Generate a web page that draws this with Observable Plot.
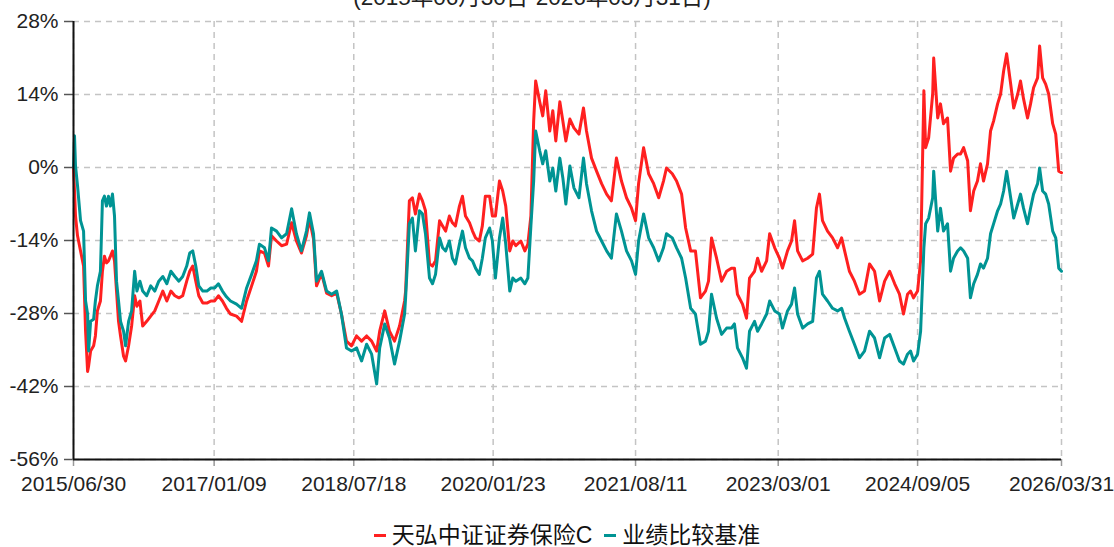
<!DOCTYPE html>
<html>
<head>
<meta charset="utf-8">
<script src="https://cdn.jsdelivr.net/npm/d3@7"></script>
<script src="https://cdn.jsdelivr.net/npm/@observablehq/plot@0.6"></script>
<style>
  html, body { margin: 0; padding: 0; background: #fff; }
  #wrap { position: relative; width: 1114px; height: 547px; overflow: hidden; font-family: "Liberation Sans", Arial, sans-serif; }
  #subtitle { position: absolute; z-index: 2; left: 0; width: 1064px; top: -13px; text-align: center; font-size: 22.5px; line-height: 22px; color: #222; white-space: nowrap; font-family: "Liberation Sans", "Noto Sans CJK SC", sans-serif; }
  #chart { position: absolute; z-index: 1; left: 0; top: 0; }
  #legend { position: absolute; z-index: 2; left: 0; width: 1134px; top: 522px; text-align: center; font-size: 23px; line-height: 26px; color: #111; white-space: nowrap; font-family: "Liberation Sans", "Noto Sans CJK SC", sans-serif; }
  .item { display: inline-block; margin: 0 6px; }
  .sw { display: inline-block; width: 12px; height: 3px; vertical-align: middle; margin-right: 6px; position: relative; top: -1px; }
</style>
</head>
<body>
<div id="wrap">
  <div id="chart"></div>
  <div id="subtitle"></div>
  <div id="legend"></div>
</div>
<script>
const subtitle = "(2015年06月30日-2026年03月31日)";
const seriesNames = ["天弘中证证券保险C", "业绩比较基准"];
const seriesColors = ["#ff2020", "#009494"];

const dates = [
"2015-06-30","2015-07-04","2015-07-08","2015-07-16","2015-07-28","2015-08-09","2015-08-17","2015-08-25","2015-08-29","2015-09-06",
"2015-09-18","2015-09-25","2015-10-03","2015-10-15","2015-10-23","2015-10-31","2015-11-08","2015-11-16","2015-11-24","2015-12-02",
"2015-12-10","2015-12-18","2015-12-26","2016-01-03","2016-01-15","2016-01-23","2016-02-04","2016-02-16","2016-02-28","2016-03-08",
"2016-03-20","2016-03-31","2016-04-16","2016-05-02","2016-05-18","2016-06-03","2016-06-19","2016-07-05","2016-07-21","2016-08-06",
"2016-08-22","2016-09-06","2016-09-22","2016-10-04","2016-10-16","2016-10-28","2016-11-09","2016-11-25","2016-12-11","2016-12-27",
"2017-01-11","2017-01-26","2017-02-11","2017-02-27","2017-03-15","2017-04-08","2017-04-28","2017-05-18","2017-06-07","2017-06-26",
"2017-07-08","2017-07-28","2017-08-13","2017-08-25","2017-09-14","2017-10-04","2017-10-24","2017-11-13","2017-12-02","2017-12-22",
"2018-01-11","2018-01-23","2018-02-08","2018-02-20","2018-03-12","2018-04-01","2018-04-21","2018-05-11","2018-05-30","2018-06-19",
"2018-07-09","2018-07-29","2018-08-18","2018-09-07","2018-09-27","2018-10-17","2018-10-29","2018-11-18","2018-12-07","2018-12-27",
"2019-01-16","2019-02-05","2019-02-09","2019-02-24","2019-03-08","2019-03-20","2019-04-05","2019-04-17","2019-04-29","2019-05-15",
"2019-05-27","2019-06-08","2019-06-24","2019-07-06","2019-07-18","2019-08-02","2019-08-14","2019-08-26","2019-09-11","2019-09-23",
"2019-10-05","2019-10-21","2019-11-02","2019-11-14","2019-11-29","2019-12-11","2019-12-23","2020-01-09","2020-01-20","2020-02-01",
"2020-02-17","2020-03-01","2020-03-13","2020-03-29","2020-04-10","2020-04-22","2020-05-12","2020-05-28","2020-06-09","2020-06-21",
"2020-07-02","2020-07-10","2020-07-26","2020-08-07","2020-08-19","2020-09-04","2020-09-16","2020-09-28","2020-10-14","2020-10-26",
"2020-11-07","2020-11-23","2020-12-09","2020-12-29","2021-01-16","2021-01-28","2021-02-17","2021-03-09","2021-03-29","2021-04-18",
"2021-05-07","2021-05-27","2021-06-16","2021-07-06","2021-07-26","2021-08-11","2021-08-23","2021-09-12","2021-10-02","2021-10-22",
"2021-11-11","2021-11-30","2021-12-12","2022-01-04","2022-01-21","2022-02-10","2022-02-26","2022-03-18","2022-04-06","2022-04-26",
"2022-05-16","2022-05-28","2022-06-09","2022-06-29","2022-07-19","2022-08-08","2022-08-27","2022-09-08","2022-09-20","2022-10-10",
"2022-10-26","2022-11-07","2022-11-27","2022-12-09","2022-12-25","2023-01-14","2023-01-26","2023-02-15","2023-03-06","2023-03-18",
"2023-04-07","2023-04-23","2023-05-05","2023-05-17","2023-06-06","2023-06-26","2023-07-16","2023-07-31","2023-08-12","2023-08-24",
"2023-09-13","2023-10-03","2023-10-23","2023-11-08","2023-11-20","2023-12-09","2023-12-29","2024-01-18","2024-02-07","2024-02-27",
"2024-03-18","2024-04-07","2024-04-27","2024-05-17","2024-06-06","2024-06-25","2024-07-11","2024-07-27","2024-08-08","2024-08-20",
"2024-09-05","2024-09-17","2024-09-30","2024-10-07","2024-10-19","2024-11-04","2024-11-08","2024-11-24","2024-12-05","2024-12-17",
"2025-01-02","2025-01-14","2025-01-26","2025-02-11","2025-02-23","2025-03-07","2025-03-23","2025-04-03","2025-04-16","2025-05-01",
"2025-05-13","2025-05-25","2025-06-10","2025-06-22","2025-07-04","2025-07-20","2025-08-01","2025-08-13","2025-08-25","2025-09-10",
"2025-09-22","2025-10-08","2025-10-19","2025-10-31","2025-11-16","2025-11-28","2025-12-10","2025-12-26","2026-01-03","2026-01-15",
"2026-01-27","2026-02-08","2026-02-24","2026-03-08","2026-03-20","2026-03-31"
];

// 天弘中证证券保险C (%)
const fund = [
0,-4.5,-9.3,-13.1,-16.0,-18.9,-31.4,-39.1,-38.1,-35.2,
-34.2,-32.3,-27.5,-25.6,-19.9,-17.0,-18.3,-17.9,-17.0,-16.0,
-17.9,-23.7,-29.5,-32.3,-36.2,-37.1,-34.2,-30.4,-24.6,-26.6,
-25.6,-30.4,-29.5,-28.5,-27.5,-25.6,-23.7,-25.6,-23.7,-24.6,
-25.0,-24.6,-21.8,-19.9,-18.9,-21.8,-24.6,-26.0,-26.0,-25.6,
-25.6,-24.6,-25.6,-27.0,-28.1,-28.5,-29.5,-25.6,-22.7,-19.9,
-16.0,-16.4,-18.9,-13.1,-14.1,-15.0,-14.7,-10.6,-14.1,-16.4,
-13.1,-9.9,-13.7,-22.7,-20.3,-24.1,-24.6,-24.1,-28.1,-33.3,
-34.2,-32.3,-33.3,-32.3,-33.3,-35.2,-31.4,-27.5,-31.4,-33.3,
-30.4,-25.6,-23.7,-6.4,-5.8,-8.9,-5.1,-6.4,-8.3,-18.5,
-18.9,-17.9,-10.2,-11.2,-12.2,-9.3,-10.6,-11.2,-7.4,-5.5,
-9.3,-10.6,-12.2,-13.5,-14.1,-11.2,-5.5,-5.5,-9.3,-9.3,
-2.6,-4.5,-7.4,-16.0,-14.1,-15.0,-14.1,-16.0,-14.7,-9.3,
8.9,16.6,12.6,9.9,14.7,7.0,10.9,5.1,12.6,8.9,
5.1,9.3,7.6,6.4,11.4,7.0,1.8,-0.7,-3.1,-5.1,
-6.4,1.8,-2.6,-5.8,-7.8,-10.2,-3.1,3.8,-1.2,-3.1,
-5.8,-2.6,-0.1,-1.2,-2.6,-5.1,-11.6,-16.0,-16.0,-25.0,
-23.7,-21.8,-13.5,-17.4,-21.8,-19.9,-19.3,-19.3,-24.3,-26.2,
-28.9,-21.2,-19.9,-17.4,-19.9,-17.9,-12.7,-15.4,-17.4,-19.3,
-16.0,-14.1,-10.2,-16.0,-17.9,-17.4,-16.6,-7.8,-5.1,-10.2,
-12.2,-13.5,-15.4,-13.5,-16.0,-19.9,-21.8,-24.3,-23.7,-18.5,
-19.9,-25.6,-21.8,-19.9,-22.3,-24.3,-28.1,-24.3,-23.7,-25.0,
-23.7,-17.9,14.7,3.8,5.7,14.1,21.0,9.5,12.2,8.4,
9.5,-0.7,1.8,2.6,2.6,3.8,1.3,-8.3,-4.5,-2.6,
0.7,-2.6,0.7,7.0,8.9,12.2,14.1,18.5,21.8,16.0,
11.4,14.1,16.6,13.2,9.5,12.2,15.3,17.2,23.3,17.2,
16.0,14.1,8.4,6.4,-0.7,-1.0
];

// 业绩比较基准 (%)
const bench = [
0,6.1,0.3,-3.5,-10.2,-12.2,-25.6,-28.1,-35.2,-29.5,
-29.1,-25.6,-22.7,-19.9,-6.4,-5.5,-7.4,-5.5,-7.4,-5.1,
-9.3,-21.8,-25.6,-29.5,-31.4,-34.2,-29.5,-27.5,-19.9,-23.7,
-21.8,-23.7,-24.6,-22.7,-23.7,-21.8,-20.9,-22.3,-19.9,-20.9,
-21.8,-20.9,-18.9,-16.4,-16.0,-18.9,-22.7,-23.7,-23.7,-23.1,
-23.1,-22.3,-23.7,-24.8,-25.6,-26.2,-27.0,-23.1,-20.5,-17.9,
-14.7,-15.4,-17.9,-11.6,-12.2,-13.5,-12.7,-7.9,-12.7,-16.0,
-12.2,-8.7,-12.7,-21.8,-19.9,-23.7,-24.3,-23.7,-28.1,-34.6,
-35.2,-34.6,-37.1,-33.9,-35.8,-41.5,-34.6,-30.0,-32.7,-37.7,
-33.3,-28.1,-25.0,-10.8,-9.7,-16.0,-8.3,-8.9,-12.7,-21.2,
-22.3,-20.5,-13.5,-15.4,-16.0,-14.1,-17.4,-18.5,-14.7,-12.2,
-15.4,-17.4,-17.9,-19.3,-20.5,-17.4,-13.5,-11.6,-14.1,-21.2,
-13.5,-9.7,-14.7,-23.7,-21.2,-21.8,-21.2,-22.3,-21.2,-11.2,
-2.6,7.0,3.2,0.7,3.2,-2.6,-0.1,-4.5,1.8,-2.0,
-7.0,0.3,-3.9,-5.8,1.8,-3.1,-8.3,-12.2,-14.1,-16.0,
-17.4,-8.9,-12.2,-16.0,-17.9,-20.5,-14.1,-8.9,-13.5,-15.4,
-17.9,-15.4,-12.7,-13.5,-15.4,-17.4,-21.2,-27.0,-28.1,-33.9,
-33.3,-31.4,-24.3,-28.9,-32.0,-30.8,-30.8,-30.0,-34.6,-36.5,
-38.5,-31.4,-29.5,-31.4,-30.0,-28.1,-25.6,-27.5,-28.1,-30.8,
-27.5,-26.2,-23.1,-28.1,-30.8,-30.0,-29.5,-21.2,-19.9,-24.3,
-25.6,-27.0,-27.5,-27.0,-28.9,-31.4,-33.9,-36.5,-35.2,-31.4,
-32.7,-36.5,-32.7,-32.0,-34.6,-37.1,-37.7,-35.8,-35.2,-37.1,
-35.8,-31.4,-15.4,-10.8,-9.7,-5.8,-0.7,-12.2,-7.8,-12.2,
-10.8,-19.9,-17.4,-16.0,-15.4,-16.0,-17.4,-25.0,-22.3,-20.5,
-18.5,-19.3,-17.4,-12.7,-10.8,-8.3,-7.0,-4.5,-0.7,-5.8,
-9.7,-7.0,-5.1,-7.8,-10.8,-7.8,-5.1,-3.1,-0.1,-4.5,
-5.1,-7.0,-12.2,-13.5,-19.3,-19.9
];

const tickDates = ["2015-06-30","2017-01-09","2018-07-18","2020-01-23","2021-08-11","2023-03-01","2024-09-05","2026-03-31"];
const tickLabels = ["2015/06/30","2017/01/09","2018/07/18","2020/01/23","2021/08/11","2023/03/01","2024/09/05","2026/03/31"];
const yTicks = [28, 14, 0, -14, -28, -42, -56];

const rows = dates.map((d, i) => ({date: new Date(d), fund: fund[i], bench: bench[i]}));
const tickDateObjs = tickDates.map(d => new Date(d));
const labelByTime = new Map(tickDateObjs.map((d, i) => [+d, tickLabels[i]]));

const grid = {stroke: "#c4c4c4", strokeOpacity: 1, strokeWidth: 1.5, strokeDasharray: "6,5"};

const chart = Plot.plot({
  width: 1114,
  height: 500,
  marginLeft: 73,
  marginRight: 53,
  marginTop: 21,
  marginBottom: 41,
  style: {fontFamily: "'Liberation Sans', Arial, sans-serif", fontSize: "21px", color: "#222", background: "white", overflow: "visible"},
  x: {type: "utc", domain: [tickDateObjs[0], tickDateObjs[tickDateObjs.length - 1]]},
  y: {domain: [-56, 28]},
  marks: [
    Plot.gridY(yTicks, grid),
    Plot.gridX(tickDateObjs, grid),
    Plot.line(rows, {x: "date", y: "fund", stroke: seriesColors[0], strokeWidth: 3}),
    Plot.line(rows, {x: "date", y: "bench", stroke: seriesColors[1], strokeWidth: 3}),
    Plot.axisY(yTicks, {tickSize: 9, tickPadding: 6, tickFormat: d => d + "%", stroke: "#555", strokeWidth: 1.5}),
    Plot.axisX(tickDateObjs, {tickSize: 7, tickPadding: 10, tickFormat: d => labelByTime.get(+d), stroke: "#999", strokeWidth: 1.5}),
    Plot.ruleX([tickDateObjs[0]], {stroke: "#111", strokeWidth: 2}),
    Plot.ruleY([-56], {stroke: "#111", strokeWidth: 2})
  ]
});
document.getElementById("chart").appendChild(chart);
document.getElementById("subtitle").textContent = subtitle;

const legend = document.getElementById("legend");
seriesNames.forEach((name, i) => {
  const item = document.createElement("span");
  item.className = "item";
  const sw = document.createElement("span");
  sw.className = "sw";
  sw.style.background = seriesColors[i];
  item.appendChild(sw);
  item.appendChild(document.createTextNode(name));
  legend.appendChild(item);
});
</script>
</body>
</html>
